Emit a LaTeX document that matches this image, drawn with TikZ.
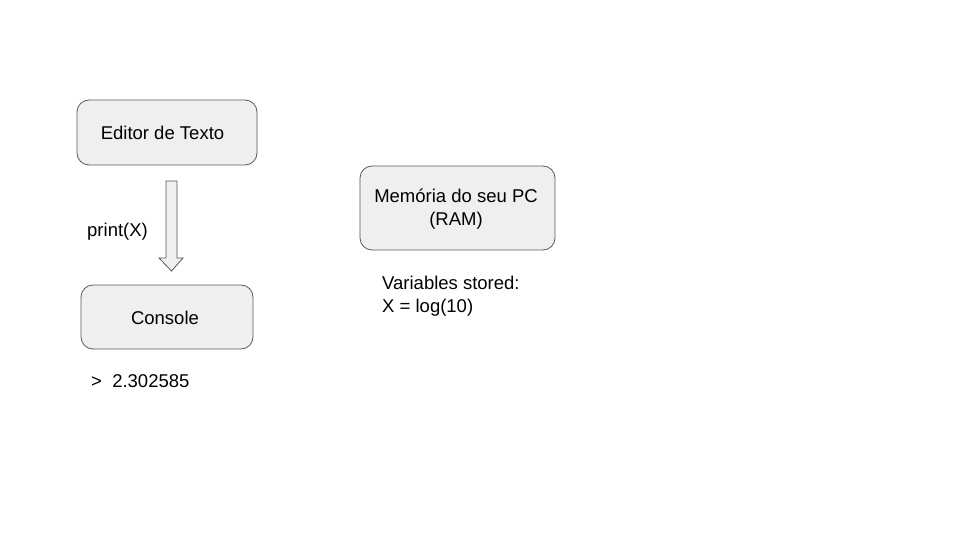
\documentclass[tikz,border=0pt]{standalone}
\usepackage{fontspec}
\setmainfont{Liberation Sans}
\definecolor{boxfill}{HTML}{EFEFEF}
\definecolor{boxline}{HTML}{595959}
\begin{document}
\begin{tikzpicture}[x=1pt,y=-1pt,
  box/.style={draw=boxline, fill=boxfill, rounded corners=12pt, line width=0.8pt},
  lbl/.style={font=\fontsize{18.5}{23.5}\selectfont, inner sep=0pt, text=black}]
\useasboundingbox (0,0) rectangle (960,540);
\draw[box] (77,100) rectangle (257,165);
\node[lbl] (editor) at (162.5,133) {Editor de Texto};
\draw[box] (81,285) rectangle (253,349);
\node[lbl] (console) at (165,318) {Console};
\draw[box] (360,166) rectangle (555,250);
\node[lbl, align=center] (mem) at (456,209) {Memória do seu PC\\(RAM)};
\draw[draw=boxline, fill=boxfill, line width=0.8pt]
  (166,181) -- (177,181) -- (177,258) -- (183,258) -- (171.5,271) -- (159,258) -- (166,258) -- cycle;
\node[lbl, anchor=west] (print) at (87,232) {print(X)};
\node[lbl, anchor=west] (out) at (91,381) {>\ \ 2.302585};
\node[lbl, anchor=west, align=left] (vars) at (382,296) {Variables stored:\\X = log(10)};
\end{tikzpicture}
\end{document}
